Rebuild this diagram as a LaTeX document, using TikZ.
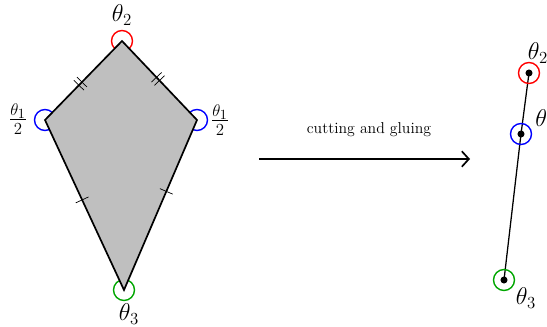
\RequirePackage{fix-cm}
\documentclass[tikz,border=0pt]{standalone}
\usetikzlibrary{decorations.markings,arrows.meta}
\tikzset{
  kite/.style={fill=black!25, draw=black, line width=1.2pt, line join=miter},
  anglering/.style={line width=1pt},
  onetick/.style={postaction={decorate}, decoration={markings,
    mark=at position #1 with {\draw[line width=0.5pt] (0,-7) -- (0,7);}}},
  twotick/.style={postaction={decorate}, decoration={markings,
    mark=at position #1 with {\draw[line width=0.5pt] (-2.2,-7) -- (-2.2,7) (2.2,-7) -- (2.2,7);}}},
  dot/.style={circle, fill=black, inner sep=0pt, minimum size=5pt},
  anglabel/.style={font=\LARGE, inner sep=0pt},
}

\begin{document}
\begin{tikzpicture}[x=0.025cm, y=-0.025cm]
\useasboundingbox (0,0) rectangle (547,327);
% kite vertices
\coordinate (top) at (122,41);
\coordinate (left) at (45,120);
\coordinate (right) at (197,120);
\coordinate (bot) at (124,290);
% angle rings
\draw[anglering, red] (top) circle (10.5);
\draw[anglering, blue] (left) circle (10.5);
\draw[anglering, blue] (right) circle (10.5);
\draw[anglering, green!65!black] (bot) circle (10.5);
\draw[kite] (top) -- (right) -- (bot) -- (left) -- cycle;
\path[twotick=0.54] (top) -- (left);
\path[twotick=0.48] (top) -- (right);
\path[onetick=0.47] (left) -- (bot);
\path[onetick=0.42] (right) -- (bot);
\node[anglabel] (l2) at (122,15) {$\theta_2$};
\node[anglabel] (l1a) at (18,119) {$\frac{\theta_1}{2}$};
\node[anglabel] (l1b) at (220,120) {$\frac{\theta_1}{2}$};
\node[anglabel] (l3) at (129,314) {$\theta_3$};
% arrow
\coordinate (src) at (259,159);
\coordinate (dst) at (470,159);
\draw[-{Straight Barb[length=5pt,width=11pt]}, line width=1.2pt] (src) -- (dst);
\node[font=\fontsize{11.2}{14}\selectfont] (cut) at (369,130) {cutting and gluing};
% glued segment
\node[dot] (p2) at (529,73) {};
\node[dot] (p1) at (521,134) {};
\node[dot] (p3) at (504,280) {};
\draw[line width=0.9pt] (p3.center) -- (p1.center) -- (p2.center);
\draw[anglering, red] (p2) circle (10.5);
\draw[anglering, blue] (p1) circle (10.5);
\draw[anglering, green!65!black] (p3) circle (10.5);
\node[anglabel] (r2) at (538,53) {$\theta_2$};
\node[anglabel, anchor=west] (r1) at (535,120) {$\theta_1$};
\node[anglabel] (r3) at (526,298) {$\theta_3$};
\end{tikzpicture}
\end{document}
